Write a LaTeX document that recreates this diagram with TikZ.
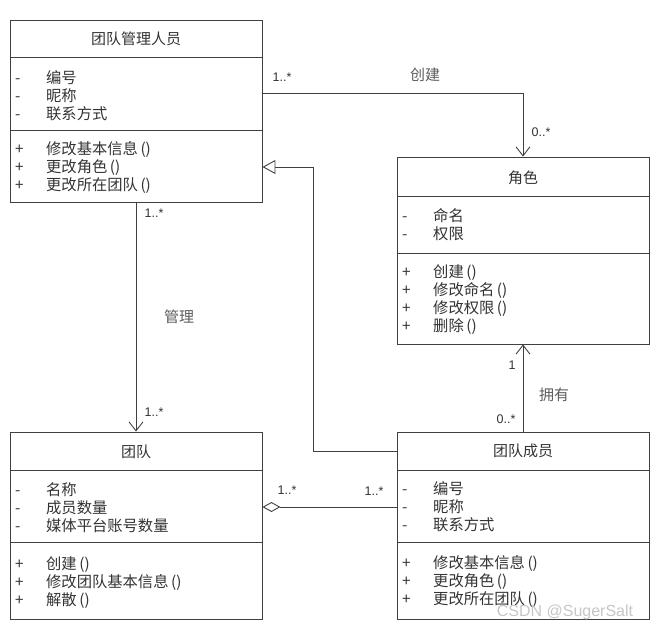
\documentclass[tikz,border=0pt]{standalone}
\usepackage{fontspec}
\newfontfamily\cjk{Noto Sans CJK SC}
\newfontfamily\lat{Liberation Sans}
\usetikzlibrary{arrows.meta}
\definecolor{umlline}{gray}{0.25}
\definecolor{umltext}{gray}{0.2}

\begin{document}
\begin{tikzpicture}[x=1pt,y=-1pt,classbox/.style={draw=umlline,line width=0.9pt,minimum width=252pt,inner sep=0pt},title/.style={font=\cjk\fontsize{15}{17.7}\selectfont,text=umltext},members/.style={anchor=north west,inner sep=0pt,font=\cjk\fontsize{15.3}{17.7}\selectfont,text=umltext},mult/.style={font=\lat\fontsize{12.5}{14}\selectfont,text=umltext},rel/.style={font=\cjk\fontsize{15}{17.7}\selectfont,text=umltext!80},assoc/.style={draw=umlline,line width=0.9pt,-{Straight Barb[length=9pt,width=14pt]}},inherit/.style={draw=umlline,line width=0.9pt,-{Triangle[open,length=13pt,width=14pt]}},aggregate/.style={draw=umlline,line width=0.9pt,-{Diamond[open,length=18pt,width=10pt]}}]
\useasboundingbox (0,0) rectangle (658,636);
\node[classbox,minimum height=182pt] (mgr) at (136,111) {};
\node[classbox,minimum height=187pt] (role) at (523,250.5) {};
\node[classbox,minimum height=187pt] (team) at (136,525.5) {};
\node[classbox,minimum height=187pt] (member) at (523,525.5) {};
\draw[umlline,line width=0.9pt] (mgr.west |- 0,57) -- (mgr.east |- 0,57);
\draw[umlline,line width=0.9pt] (mgr.west |- 0,130) -- (mgr.east |- 0,130);
\draw[umlline,line width=0.9pt] (role.west |- 0,196) -- (role.east |- 0,196);
\draw[umlline,line width=0.9pt] (role.west |- 0,253) -- (role.east |- 0,253);
\draw[umlline,line width=0.9pt] (team.west |- 0,470) -- (team.east |- 0,470);
\draw[umlline,line width=0.9pt] (team.west |- 0,542) -- (team.east |- 0,542);
\draw[umlline,line width=0.9pt] (member.west |- 0,470) -- (member.east |- 0,470);
\draw[umlline,line width=0.9pt] (member.west |- 0,542) -- (member.east |- 0,542);
\node[title] (mgrT) at (136,39) {团队管理人员};
\node[title] (roleT) at (523,178) {角色};
\node[title] (teamT) at (136,452) {团队};
\node[title] (memberT) at (523,451) {团队成员};
\node[members] (mgrA) at (15,70) {\begin{tabular}{@{}p{31pt}@{}l@{}}-&编号\\-&昵称\\-&联系方式\end{tabular}};
\node[members] (mgrM) at (15,141) {\begin{tabular}{@{}p{31pt}@{}l@{}}+&修改基本信息\,()\\+&更改角色\,()\\+&更改所在团队\,()\end{tabular}};
\node[members] (roleA) at (402,208) {\begin{tabular}{@{}p{31pt}@{}l@{}}-&命名\\-&权限\end{tabular}};
\node[members] (roleM) at (402,264) {\begin{tabular}{@{}p{31pt}@{}l@{}}+&创建\,()\\+&修改命名\,()\\+&修改权限\,()\\+&删除\,()\end{tabular}};
\node[members] (teamA) at (15,482) {\begin{tabular}{@{}p{31pt}@{}l@{}}-&名称\\-&成员数量\\-&媒体平台账号数量\end{tabular}};
\node[members] (teamM) at (15,556) {\begin{tabular}{@{}p{31pt}@{}l@{}}+&创建\,()\\+&修改团队基本信息\,()\\+&解散\,()\end{tabular}};
\node[members] (memberA) at (402,481) {\begin{tabular}{@{}p{31pt}@{}l@{}}-&编号\\-&昵称\\-&联系方式\end{tabular}};
\node[members] (memberM) at (402,555) {\begin{tabular}{@{}p{31pt}@{}l@{}}+&修改基本信息\,()\\+&更改角色\,()\\+&更改所在团队\,()\end{tabular}};
\coordinate (bend) at (313,167);
\draw[assoc] (mgr.east |- 0,93) -| (role.north);
\draw[assoc] (mgr.south) -- (team.north);
\draw[assoc] (member.north) -- (role.south);
\draw[inherit] (member.west |- 0,451) -| (bend) -- (mgr.east |- bend);
\draw[aggregate] (member.west |- 0,507) -- (team.east |- 0,507);
\node[mult] (m1) at (282,77) {1..*};
\node[rel] (create) at (425,75) {创建};
\node[mult] (m2) at (541,132) {0..*};
\node[mult] (m3) at (154,213) {1..*};
\node[rel] (manage) at (179,317) {管理};
\node[mult] (m4) at (154,412) {1..*};
\node[mult] (m5) at (512,365) {1};
\node[rel] (own) at (554,395) {拥有};
\node[mult] (m6) at (506,419) {0..*};
\node[mult] (m7) at (374,491) {1..*};
\node[mult] (m8) at (287,490) {1..*};
\node[font=\lat\fontsize{16}{18}\selectfont,text=gray!45] (mark) at (565,612) {CSDN @SugerSalt};
\end{tikzpicture}
\end{document}
